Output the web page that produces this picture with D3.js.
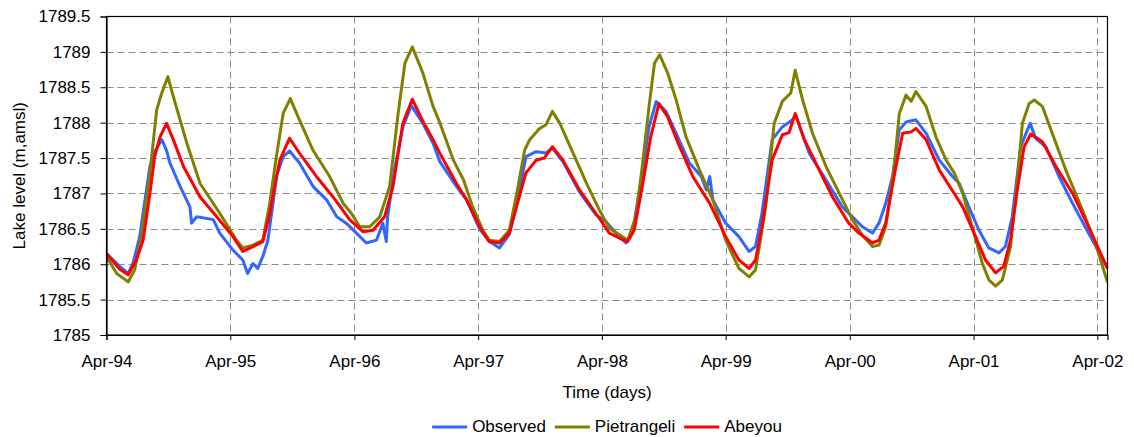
<!DOCTYPE html>
<html>
<head>
<meta charset="utf-8">
<script src="https://cdn.jsdelivr.net/npm/d3@7"></script>
<style>
  body { margin: 0; background: #fff; }
  svg { display: block; font-family: Arial, "Liberation Sans", sans-serif; }
</style>
</head>
<body>
<svg id="chart"></svg>
<script>
const width = 1134;
const height = 437;

// lake level readings, [date, m amsl]
const observed = [
  ["1994-04-01", 1786.15], ["1994-05-10", 1785.97], ["1994-06-04", 1785.87], ["1994-06-18", 1786.01],
  ["1994-07-08", 1786.39], ["1994-07-22", 1786.86], ["1994-08-07", 1787.38], ["1994-08-21", 1787.59],
  ["1994-09-11", 1787.76], ["1994-09-25", 1787.61], ["1994-10-05", 1787.43], ["1994-11-04", 1787.10],
  ["1994-12-03", 1786.81], ["1994-12-08", 1786.58], ["1994-12-23", 1786.67], ["1995-02-10", 1786.63],
  ["1995-03-01", 1786.44], ["1995-04-09", 1786.20], ["1995-05-08", 1786.06], ["1995-05-22", 1785.87],
  ["1995-06-07", 1786.01], ["1995-06-21", 1785.94], ["1995-07-06", 1786.11], ["1995-07-21", 1786.34],
  ["1995-08-05", 1786.86], ["1995-08-15", 1787.24], ["1995-09-04", 1787.52], ["1995-09-23", 1787.60],
  ["1995-10-22", 1787.43], ["1995-12-01", 1787.10], ["1996-01-10", 1786.91], ["1996-02-09", 1786.67],
  ["1996-03-08", 1786.58], ["1996-04-07", 1786.44], ["1996-05-06", 1786.30], ["1996-06-05", 1786.34],
  ["1996-06-24", 1786.58], ["1996-07-04", 1786.32], ["1996-07-08", 1786.67], ["1996-07-28", 1787.33],
  ["1996-08-22", 1787.94], ["1996-09-16", 1788.24], ["1996-10-20", 1787.99], ["1996-11-19", 1787.71],
  ["1996-12-09", 1787.45], ["1997-01-27", 1787.10], ["1997-02-26", 1786.91], ["1997-04-05", 1786.50],
  ["1997-05-04", 1786.32], ["1997-06-03", 1786.23], ["1997-07-02", 1786.42], ["1997-07-26", 1786.90],
  ["1997-08-20", 1787.52], ["1997-09-19", 1787.59], ["1997-10-18", 1787.57], ["1997-11-06", 1787.64],
  ["1997-12-07", 1787.45], ["1998-01-25", 1787.02], ["1998-03-14", 1786.70], ["1998-04-13", 1786.60],
  ["1998-05-12", 1786.44], ["1998-06-11", 1786.30], ["1998-06-30", 1786.44], ["1998-07-29", 1787.29],
  ["1998-08-18", 1787.94], ["1998-09-08", 1788.30], ["1998-10-07", 1788.16], ["1998-11-06", 1787.85],
  ["1998-12-15", 1787.43], ["1999-01-19", 1787.24], ["1999-02-03", 1787.05], ["1999-02-13", 1787.24],
  ["1999-02-22", 1786.91], ["1999-04-01", 1786.58], ["1999-05-10", 1786.39], ["1999-06-09", 1786.18],
  ["1999-06-28", 1786.25], ["1999-07-17", 1786.72], ["1999-08-16", 1787.76], ["1999-09-15", 1787.94],
  ["1999-10-15", 1788.04], ["1999-10-25", 1788.10], ["1999-12-03", 1787.57], ["2000-01-22", 1787.19],
  ["2000-03-10", 1786.81], ["2000-04-09", 1786.67], ["2000-05-08", 1786.53], ["2000-06-07", 1786.44],
  ["2000-06-26", 1786.58], ["2000-07-16", 1786.86], ["2000-08-05", 1787.24], ["2000-08-25", 1787.90],
  ["2000-09-14", 1788.01], ["2000-10-13", 1788.04], ["2000-11-12", 1787.85], ["2000-12-21", 1787.47],
  ["2001-01-29", 1787.24], ["2001-02-18", 1787.14], ["2001-03-18", 1786.81], ["2001-04-17", 1786.48],
  ["2001-05-16", 1786.23], ["2001-06-15", 1786.16], ["2001-07-04", 1786.25], ["2001-07-24", 1786.67],
  ["2001-08-18", 1787.66], ["2001-09-07", 1787.90], ["2001-09-15", 1787.99], ["2001-10-01", 1787.78],
  ["2001-10-31", 1787.66], ["2001-12-09", 1787.24], ["2002-01-18", 1786.86], ["2002-03-06", 1786.44],
  ["2002-04-30", 1785.96]
];

const pietrangeli = [
  ["1994-04-01", 1786.11], ["1994-05-01", 1785.87], ["1994-06-04", 1785.75], ["1994-06-23", 1785.92],
  ["1994-07-13", 1786.39], ["1994-08-07", 1787.29], ["1994-08-27", 1788.18], ["1994-09-11", 1788.42],
  ["1994-09-29", 1788.65], ["1994-10-15", 1788.37], ["1994-11-24", 1787.71], ["1995-01-02", 1787.14],
  ["1995-03-01", 1786.72], ["1995-04-19", 1786.34], ["1995-05-08", 1786.23], ["1995-06-07", 1786.27],
  ["1995-07-06", 1786.34], ["1995-07-26", 1786.85], ["1995-08-15", 1787.52], ["1995-09-04", 1788.13],
  ["1995-09-25", 1788.34], ["1995-10-22", 1788.04], ["1995-12-01", 1787.61], ["1996-01-19", 1787.24],
  ["1996-02-28", 1786.86], ["1996-03-23", 1786.72], ["1996-04-17", 1786.53], ["1996-05-16", 1786.53],
  ["1996-06-15", 1786.67], ["1996-07-14", 1787.10], ["1996-08-08", 1788.13], ["1996-08-28", 1788.84],
  ["1996-09-19", 1789.07], ["1996-10-20", 1788.70], ["1996-11-19", 1788.23], ["1996-12-09", 1788.00],
  ["1997-01-18", 1787.47], ["1997-02-17", 1787.19], ["1997-03-16", 1786.81], ["1997-04-15", 1786.48],
  ["1997-05-04", 1786.34], ["1997-06-03", 1786.32], ["1997-07-02", 1786.48], ["1997-07-26", 1787.05],
  ["1997-08-16", 1787.61], ["1997-08-31", 1787.76], ["1997-09-30", 1787.92], ["1997-10-18", 1787.97],
  ["1997-11-06", 1788.16], ["1997-11-28", 1787.99], ["1998-01-06", 1787.57], ["1998-02-15", 1787.14],
  ["1998-03-24", 1786.77], ["1998-04-23", 1786.51], ["1998-06-16", 1786.34], ["1998-07-10", 1786.67],
  ["1998-07-29", 1787.38], ["1998-08-18", 1788.23], ["1998-09-03", 1788.84], ["1998-09-18", 1788.96],
  ["1998-10-12", 1788.70], ["1998-11-06", 1788.32], ["1998-12-05", 1787.80], ["1999-01-14", 1787.33],
  ["1999-02-22", 1786.91], ["1999-04-01", 1786.34], ["1999-05-10", 1785.94], ["1999-06-09", 1785.82],
  ["1999-06-28", 1785.92], ["1999-07-28", 1786.81], ["1999-08-22", 1787.99], ["1999-09-15", 1788.30],
  ["1999-10-10", 1788.42], ["1999-10-23", 1788.74], ["1999-11-14", 1788.32], ["1999-12-13", 1787.85],
  ["2000-01-22", 1787.38], ["2000-03-01", 1787.00], ["2000-04-09", 1786.63], ["2000-05-08", 1786.41],
  ["2000-06-07", 1786.25], ["2000-06-26", 1786.27], ["2000-07-16", 1786.53], ["2000-08-10", 1787.38],
  ["2000-08-25", 1788.13], ["2000-09-14", 1788.39], ["2000-09-29", 1788.30], ["2000-10-13", 1788.44],
  ["2000-11-12", 1788.23], ["2000-12-11", 1787.80], ["2001-01-10", 1787.47], ["2001-02-03", 1787.29],
  ["2001-02-28", 1787.00], ["2001-03-28", 1786.53], ["2001-04-27", 1786.01], ["2001-05-16", 1785.78],
  ["2001-06-05", 1785.69], ["2001-06-25", 1785.78], ["2001-07-19", 1786.25], ["2001-08-08", 1787.19],
  ["2001-08-23", 1787.99], ["2001-09-12", 1788.27], ["2001-09-27", 1788.32], ["2001-10-21", 1788.23],
  ["2001-11-19", 1787.85], ["2001-12-29", 1787.33], ["2002-02-16", 1786.77], ["2002-03-26", 1786.30],
  ["2002-04-30", 1785.76]
];

const abeyou = [
  ["1994-04-01", 1786.15], ["1994-05-10", 1785.93], ["1994-06-04", 1785.85], ["1994-06-28", 1786.06],
  ["1994-07-18", 1786.34], ["1994-08-07", 1787.00], ["1994-08-21", 1787.52], ["1994-09-06", 1787.80],
  ["1994-09-25", 1787.99], ["1994-10-15", 1787.76], ["1994-11-14", 1787.38], ["1995-01-02", 1786.95],
  ["1995-02-20", 1786.67], ["1995-04-09", 1786.39], ["1995-05-08", 1786.18], ["1995-06-07", 1786.25],
  ["1995-07-06", 1786.32], ["1995-07-26", 1786.70], ["1995-08-10", 1787.10], ["1995-08-25", 1787.47],
  ["1995-09-23", 1787.78], ["1995-10-22", 1787.57], ["1995-12-11", 1787.24], ["1996-01-29", 1786.95],
  ["1996-03-18", 1786.63], ["1996-04-26", 1786.46], ["1996-05-26", 1786.48], ["1996-06-29", 1786.67],
  ["1996-07-24", 1787.10], ["1996-08-22", 1787.99], ["1996-09-19", 1788.33], ["1996-10-20", 1788.02],
  ["1996-11-19", 1787.76], ["1996-12-09", 1787.57], ["1997-01-27", 1787.14], ["1997-02-26", 1786.91],
  ["1997-04-05", 1786.53], ["1997-05-04", 1786.32], ["1997-06-03", 1786.30], ["1997-07-02", 1786.44],
  ["1997-07-26", 1786.86], ["1997-08-20", 1787.29], ["1997-09-19", 1787.47], ["1997-10-13", 1787.50],
  ["1997-11-06", 1787.66], ["1997-12-07", 1787.47], ["1998-01-25", 1787.05], ["1998-03-14", 1786.72],
  ["1998-04-23", 1786.44], ["1998-05-22", 1786.37], ["1998-06-16", 1786.32], ["1998-07-05", 1786.48],
  ["1998-07-29", 1787.10], ["1998-08-23", 1787.80], ["1998-09-16", 1788.27], ["1998-10-12", 1788.08],
  ["1998-11-16", 1787.66], ["1998-12-25", 1787.24], ["1999-02-13", 1786.86], ["1999-04-01", 1786.39],
  ["1999-05-10", 1786.06], ["1999-06-09", 1785.94], ["1999-06-28", 1786.06], ["1999-07-17", 1786.53],
  ["1999-08-16", 1787.47], ["1999-09-15", 1787.83], ["1999-10-05", 1787.86], ["1999-10-23", 1788.13],
  ["1999-11-19", 1787.76], ["2000-01-02", 1787.33], ["2000-02-10", 1786.95], ["2000-03-29", 1786.58],
  ["2000-04-28", 1786.44], ["2000-06-07", 1786.30], ["2000-06-26", 1786.34], ["2000-07-16", 1786.58],
  ["2000-08-15", 1787.38], ["2000-09-04", 1787.85], ["2000-09-29", 1787.87], ["2000-10-13", 1787.92],
  ["2000-11-12", 1787.76], ["2000-12-21", 1787.33], ["2001-02-03", 1787.00], ["2001-02-28", 1786.81],
  ["2001-04-07", 1786.39], ["2001-05-06", 1786.06], ["2001-06-05", 1785.88], ["2001-06-29", 1785.97],
  ["2001-07-19", 1786.34], ["2001-08-08", 1787.05], ["2001-08-28", 1787.66], ["2001-09-17", 1787.84],
  ["2001-10-21", 1787.73], ["2001-11-30", 1787.38], ["2002-01-18", 1787.00], ["2002-03-06", 1786.53],
  ["2002-04-30", 1785.95]
];

const seriesNames = ["Observed", "Pietrangeli", "Abeyou"];
const seriesColors = ["#3366ff", "#808000", "#ff0000"];
const yTicks = [1785, 1785.5, 1786, 1786.5, 1787, 1787.5, 1788, 1788.5, 1789, 1789.5];
const xTickDates = ["1994-04-01", "1995-04-01", "1996-04-01", "1997-04-01", "1998-04-01",
  "1999-04-01", "2000-04-01", "2001-04-01", "2002-04-01"];
const xDomain = ["1994-04-01", "2002-05-01"];

const parse = d3.timeParse("%Y-%m-%d");
const plotLeft = 106.5, plotRight = 1107.5, plotTop = 16.5, plotBottom = 335;

const svg = d3.select("#chart").attr("width", width).attr("height", height);

const x = d3.scaleTime().domain(xDomain.map(parse)).range([plotLeft, plotRight]);
const y = d3.scaleLinear().domain([1785, 1789.5]).range([plotBottom, plotTop]);

// grid
const grid = svg.append("g")
  .attr("stroke", "#8c8c8c")
  .attr("stroke-width", 1)
  .attr("stroke-dasharray", "7,4");

grid.selectAll(".hgrid")
  .data(yTicks.filter(d => d > 1785 && d < 1789.5))
  .enter().append("line")
  .attr("x1", plotLeft).attr("x2", plotRight)
  .attr("y1", d => Math.round(y(d)) + 0.5)
  .attr("y2", d => Math.round(y(d)) + 0.5);

grid.selectAll(".vgrid")
  .data(xTickDates.slice(1).map(parse))
  .enter().append("line")
  .attr("x1", d => Math.round(x(d)) + 0.5)
  .attr("x2", d => Math.round(x(d)) + 0.5)
  .attr("y1", plotTop).attr("y2", plotBottom);

// series
svg.append("clipPath").attr("id", "plot-clip")
  .append("rect")
  .attr("x", plotLeft).attr("y", plotTop)
  .attr("width", plotRight - plotLeft).attr("height", plotBottom - plotTop);

const line = d3.line()
  .x(d => x(parse(d[0])))
  .y(d => y(d[1]));

const allSeries = [observed, pietrangeli, abeyou];

svg.append("g").attr("clip-path", "url(#plot-clip)")
  .selectAll("path")
  .data(allSeries)
  .enter().append("path")
  .attr("d", line)
  .attr("fill", "none")
  .attr("stroke", (d, i) => seriesColors[i])
  .attr("stroke-width", 3)
  .attr("stroke-linejoin", "round")
  .attr("stroke-linecap", "round");

// frame
svg.append("rect")
  .attr("x", plotLeft).attr("y", plotTop)
  .attr("width", plotRight - plotLeft).attr("height", plotBottom - plotTop)
  .attr("fill", "none")
  .attr("stroke", "#000")
  .attr("stroke-width", 1.2);

// axes
const yAxis = svg.append("g")
  .attr("transform", `translate(${plotLeft},0)`)
  .call(d3.axisLeft(y).tickValues(yTicks).tickFormat(d => String(d)).tickSize(6).tickPadding(10));

const xAxis = svg.append("g")
  .attr("transform", `translate(0,${plotBottom})`)
  .call(d3.axisBottom(x).tickValues(xTickDates.map(parse))
    .tickFormat(d3.timeFormat("%b-%y")).tickSize(5).tickPadding(15));

[yAxis, xAxis].forEach(a => {
  a.select(".domain").attr("stroke", "#000").attr("stroke-width", 1.2);
  a.selectAll(".tick line").attr("stroke", "#000");
  a.selectAll(".tick text").attr("fill", "#000").style("font-size", "17px")
    .style("font-family", "Arial, 'Liberation Sans', sans-serif");
});

// titles
svg.append("text")
  .attr("transform", `translate(25,${(plotTop + plotBottom) / 2}) rotate(-90)`)
  .attr("text-anchor", "middle")
  .style("font-size", "17px")
  .text("Lake level (m,amsl)");

svg.append("text")
  .attr("x", (plotLeft + plotRight) / 2)
  .attr("y", 398)
  .attr("text-anchor", "middle")
  .style("font-size", "17px")
  .text("Time (days)");

// legend
const legend = svg.append("g");
let offset = 0;
seriesNames.forEach((name, i) => {
  const item = legend.append("g").attr("transform", `translate(${offset},0)`);
  item.append("line")
    .attr("x1", 0).attr("x2", 35)
    .attr("y1", 427).attr("y2", 427)
    .attr("stroke", seriesColors[i])
    .attr("stroke-width", 3);
  const t = item.append("text")
    .attr("x", 40).attr("y", 432)
    .style("font-size", "17px")
    .text(name);
  offset += 40 + t.node().getComputedTextLength() + 9;
});
const legendWidth = offset - 9;
legend.attr("transform", `translate(${(plotLeft + plotRight) / 2 - legendWidth / 2},0)`);
</script>
</body>
</html>
